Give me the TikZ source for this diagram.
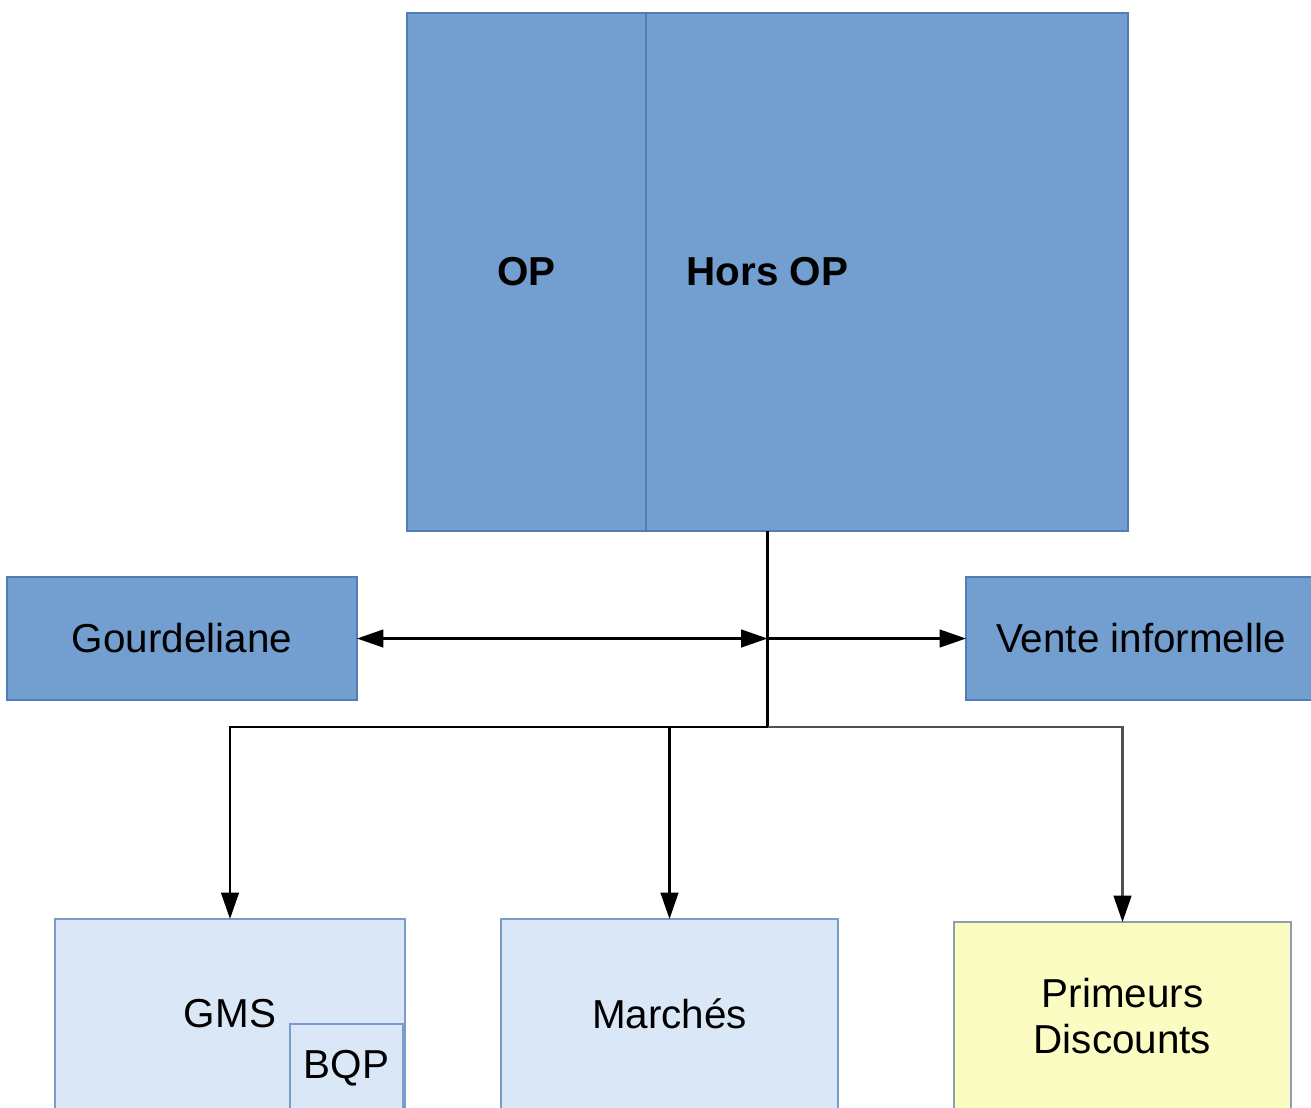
\documentclass[tikz,border=0pt]{standalone}
\usepackage{fontspec}
\setmainfont{Liberation Sans}
\usetikzlibrary{arrows.meta}
\definecolor{darkfill}{HTML}{729FCF}
\definecolor{darkline}{HTML}{4F7DB8}
\definecolor{lightfill}{HTML}{DAE7F6}
\definecolor{lightline}{HTML}{7A9CC9}
\definecolor{yellowfill}{HTML}{FAFCC2}
\definecolor{yellowline}{HTML}{8AA0B0}
\definecolor{grayline}{HTML}{505050}
\tikzset{
  box/.style={rectangle, inner sep=0pt, outer sep=0pt, line width=1.3pt, align=center,
    font=\fontsize{23}{26}\selectfont},
  darkbox/.style={box, fill=darkfill, draw=darkline},
  lightbox/.style={box, fill=lightfill, draw=lightline},
  yellowbox/.style={box, fill=yellowfill, draw=yellowline},
  conn/.style={line width=1.4pt, draw=black},
  arr/.style={conn, -{Triangle[length=15pt,width=10pt]}},
  grayarr/.style={conn, draw=grayline, -{Triangle[length=15pt,width=10pt,color=black]}},
  biarr/.style={conn, {Triangle[length=15pt,width=10pt]}-{Triangle[length=15pt,width=10pt]}},
}
\begin{document}
\begin{tikzpicture}[x=0.02cm, y=-0.02cm]
\useasboundingbox (0,0) rectangle (1311,1107);
\clip (0,0) rectangle (1311,1107);
\fill[white] (0,0) rectangle (1311,1107);
% top boxes
\node[darkbox, minimum width=14.42cm, minimum height=10.36cm] (hors) at (767.5,272) {\bfseries Hors OP};
\node[darkbox, minimum width=4.78cm, minimum height=10.36cm] (op) at (526.5,272) {\bfseries OP};
% middle boxes
\node[darkbox, minimum width=7cm, minimum height=2.46cm] (gourd) at (182,638.5) {Gourdeliane};
\node[darkbox, minimum width=7cm, minimum height=2.46cm] (vente) at (1141,638.5) {Vente informelle};
% bottom boxes
\node[lightbox, minimum width=7cm, minimum height=3.8cm] (gms) at (230,1014) {GMS};
\node[lightbox, minimum width=2.26cm, minimum height=1.76cm] (bqp) at (346.5,1068) {BQP};
\node[lightbox, minimum width=6.74cm, minimum height=3.8cm] (marches) at (669.5,1014) {Marchés};
\node[yellowbox, minimum width=6.74cm, minimum height=3.76cm] (prim) at (1122.5,1016) {Primeurs\\Discounts};
% connectors
\coordinate (junction) at (hors.south |- gourd.east);
\coordinate (split) at (767.5,727);
\draw[conn] (hors.south) -- (split);
\draw[biarr] (gourd.east) -- (junction);
\draw[arr] (junction) -- (vente.west);
\draw[arr] (split) -- (split -| gms.north) -- (gms.north);
\draw[arr] (split -| marches.north) -- (marches.north);
\draw[grayarr] (split) -- (split -| prim.north) -- (prim.north);
\end{tikzpicture}
\end{document}
